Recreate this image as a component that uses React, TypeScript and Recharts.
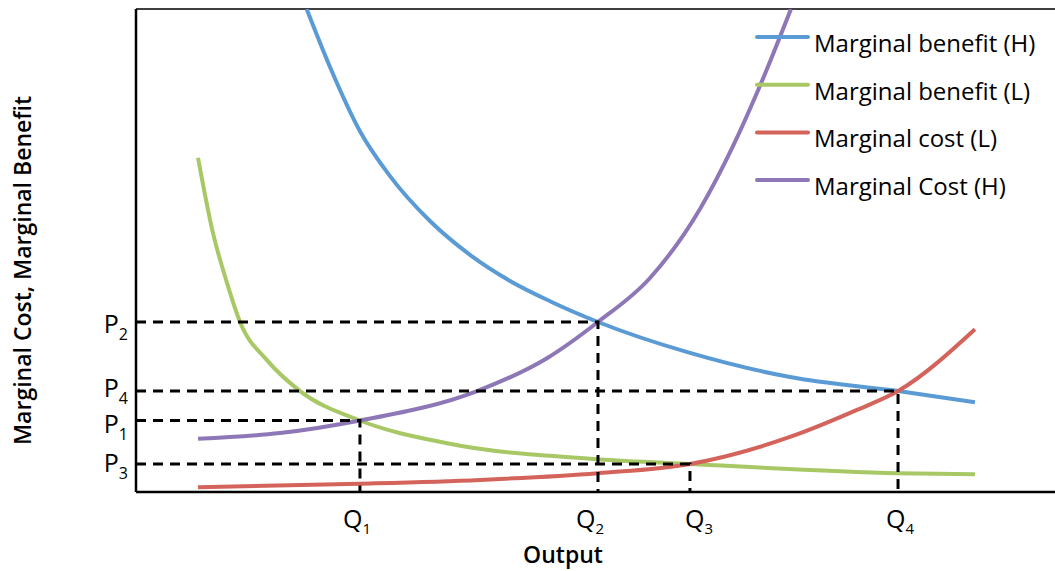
import { ComposedChart, Line, XAxis, YAxis, ReferenceLine, Legend } from 'recharts';

// curve readings, output (x) against cost / benefit (y)
const benefitHighX = [1.857, 2.111, 2.437, 2.764, 3.199, 3.634, 4.07, 4.505, 5.027, 6.028, 7.116, 8.292, 9.129];
const benefitHighY = [10.0, 8.8, 7.47, 6.54, 5.61, 4.91, 4.37, 3.95, 3.52, 2.88, 2.38, 2.09, 1.86];

const benefitLowX = [0.675, 0.838, 0.99, 1.132, 1.425, 1.785, 2.437, 3.384, 5.027, 6.028, 8.292, 9.129];
const benefitLowY = [6.92, 5.36, 4.33, 3.52, 2.73, 2.09, 1.48, 1.01, 0.68, 0.58, 0.39, 0.37];

const costLowX = [0.675, 2.437, 3.743, 5.027, 6.028, 7.116, 7.845, 8.292, 9.129];
const costLowY = [0.1, 0.17, 0.25, 0.39, 0.58, 1.14, 1.7, 2.09, 3.37];

const costHighX = [0.675, 1.567, 2.437, 3.711, 4.472, 5.027, 5.593, 6.137, 6.496, 6.79, 7.127];
const costHighY = [1.1, 1.22, 1.48, 2.09, 2.77, 3.52, 4.43, 5.86, 7.16, 8.41, 10.0];

// equilibrium points: Q1/P1 ... Q4/P4
const quantityLabels = ['1', '2', '3', '4'];
const quantityLevels = [2.437, 5.027, 6.028, 8.292];
const priceLevels = [1.48, 3.52, 0.58, 2.09];

const seriesNames = ['Marginal benefit (H)', 'Marginal benefit (L)', 'Marginal cost (L)', 'Marginal Cost (H)'];
const seriesColors = ['#5B9BD5', '#A8C866', '#D4645B', '#8D77B7'];

const FONT = '"Open Sans", "Liberation Sans", sans-serif';

const zip = (xs: number[], ys: number[]) => xs.map((x, i) => ({ x, y: ys[i] }));

const curves = [
  zip(benefitHighX, benefitHighY),
  zip(benefitLowX, benefitLowY),
  zip(costLowX, costLowY),
  zip(costHighX, costHighY),
];

const guides = quantityLevels.map((q, i) => [
  { x: 0, y: priceLevels[i] },
  { x: q, y: priceLevels[i] },
  { x: q, y: 0 },
]);

// small hand nudges so the P / Q labels sit like the original
const qNudge: Record<string, number> = { '1': -3, '2': -8, '3': 9, '4': 2 };
const pNudge: Record<string, number> = { '1': 3, '2': 2, '3': -1, '4': -3 };

const PTick = (props: any) => {
  const { x, y, payload } = props;
  const idx = priceLevels.indexOf(payload.value);
  const sub = quantityLabels[idx];
  return (
    <text x={x} y={y + 9 + (pNudge[sub] || 0)} textAnchor="end" fontSize={25} fill="#000" fontFamily={FONT}>
      P<tspan dy={7} fontSize={16}>{sub}</tspan>
    </text>
  );
};

const QTick = (props: any) => {
  const { x, y, payload } = props;
  const idx = quantityLevels.indexOf(payload.value);
  const sub = quantityLabels[idx];
  return (
    <text x={x + (qNudge[sub] || 0)} y={y + 28} textAnchor="middle" fontSize={25} fill="#000" fontFamily={FONT}>
      Q<tspan dy={6} fontSize={15}>{sub}</tspan>
    </text>
  );
};

const XTitle = (props: any) => {
  const { viewBox } = props;
  return (
    <text x={viewBox.x + 427} y={viewBox.y + viewBox.height - 8} textAnchor="middle" fontSize={23} fontWeight={600} fill="#000" fontFamily={FONT}>
      Output
    </text>
  );
};

const YTitle = (props: any) => {
  const { viewBox } = props;
  const cx = viewBox.x + 31;
  const cy = viewBox.y + viewBox.height / 2 + 20;
  return (
    <text x={cx} y={cy} transform={`rotate(-90 ${cx} ${cy})`} textAnchor="middle" fontSize={23} fontWeight={600} fill="#000" fontFamily={FONT}>
      Marginal Cost, Marginal Benefit
    </text>
  );
};

const LegendBox = (props: any) => {
  const items = (props.payload || [])
    .filter((p: any) => seriesNames.includes(p.value))
    .sort((a: any, b: any) => seriesNames.indexOf(a.value) - seriesNames.indexOf(b.value));
  return (
    <svg width={315} height={210} style={{ display: 'block' }}>
      {items.map((p: any, i: number) => (
        <g key={p.value}>
          <line x1={17} x2={68} y1={37 + i * 47.7} y2={37 + i * 47.7} stroke={p.color} strokeWidth={4} strokeLinecap="round" />
          <text x={74} y={52 + i * 47.7} fontSize={24} fill="#000" fontFamily={FONT}>
            {p.value}
          </text>
        </g>
      ))}
    </svg>
  );
};

export default function App() {
  return (
    <div style={{ position: 'absolute', left: 0, top: 0, background: '#fff' }}>
      <ComposedChart width={1055} height={571} margin={{ top: 9, right: 0, bottom: 0, left: 0 }}>
        <XAxis
          type="number"
          dataKey="x"
          domain={[0, 10]}
          ticks={quantityLevels}
          interval={0}
          tick={<QTick />}
          tickLine={false}
          axisLine={{ stroke: '#000', strokeWidth: 2.5 }}
          height={79}
          label={<XTitle />}
          allowDataOverflow
        />
        <YAxis
          type="number"
          domain={[0, 10]}
          ticks={priceLevels}
          interval={0}
          tick={<PTick />}
          tickLine={false}
          axisLine={{ stroke: '#000', strokeWidth: 2.5 }}
          width={136}
          label={<YTitle />}
          allowDataOverflow
        />
        <ReferenceLine y={10} stroke="#000" strokeWidth={1.5} />
        {curves.map((pts, i) => (
          <Line
            key={seriesNames[i]}
            data={pts}
            dataKey="y"
            name={seriesNames[i]}
            type="monotone"
            stroke={seriesColors[i]}
            strokeWidth={4}
            dot={false}
            activeDot={false}
            isAnimationActive={false}
          />
        ))}
        {guides.map((pts, i) => (
          <Line
            key={'guide' + i}
            data={pts}
            dataKey="y"
            name={'guide' + i}
            type="linear"
            stroke="#000"
            strokeWidth={3}
            strokeDasharray="10 7"
            dot={false}
            activeDot={false}
            legendType="none"
            isAnimationActive={false}
          />
        ))}
        <Legend
          layout="vertical"
          align="center"
          verticalAlign="middle"
          wrapperStyle={{ left: 740, top: 0, width: 315, height: 210 }}
          content={<LegendBox />}
        />
      </ComposedChart>
    </div>
  );
}
